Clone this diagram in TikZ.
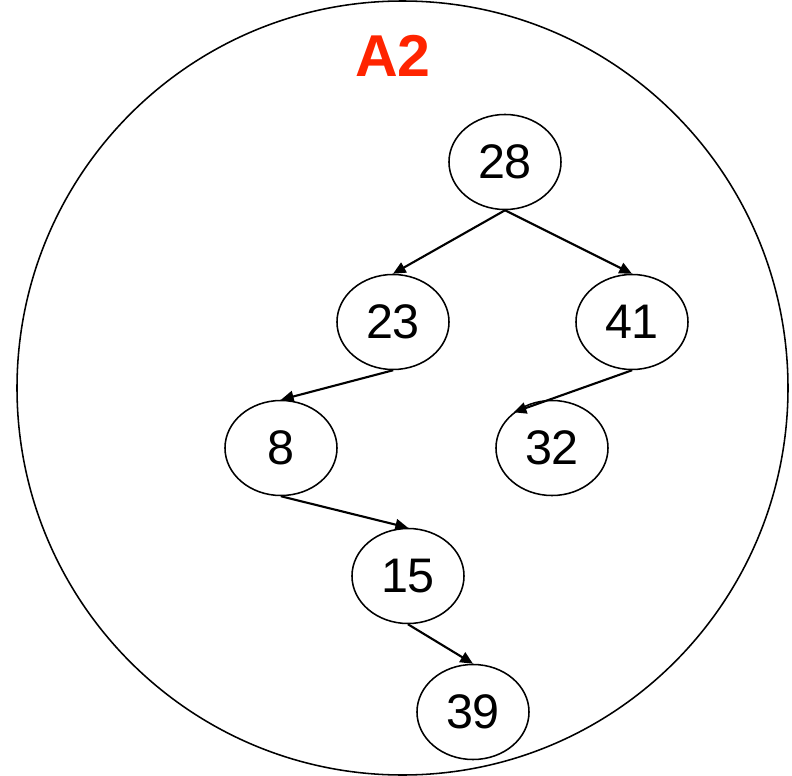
\documentclass[tikz,border=0pt]{standalone}
\usepackage{fontspec}
\setmainfont{Liberation Sans}
\usetikzlibrary{shapes.geometric, arrows.meta}
\definecolor{labelred}{RGB}{255,36,0}

\begin{document}
\begin{tikzpicture}[
  x=0.025cm, y=-0.025cm,
  key/.style={draw, ellipse, line width=1.1pt, minimum width=2.8cm, minimum height=2.375cm, inner sep=0pt, font=\fontsize{34.5}{40}\selectfont},
  link/.style={-{Triangle[length=9pt, width=8pt]}, line width=1.5pt}
]
\useasboundingbox (0,0) rectangle (792,776);
% outer set
\draw[line width=1.1pt] (402.5,388) ellipse [x radius=385.5, y radius=387];
\node[font=\fontsize{42}{48}\selectfont\bfseries, text=labelred] (title) at (393,56) {A2};

% tree
\node[key] (n28) at (505,162) {28};
\node[key] (n23) at (393,322) {23};
\node[key] (n41) at (632,322) {41};
\node[key] (n8)  at (281,448) {8};
\node[key] (n32) at (552,448) {32};
\node[key] (n15) at (408,576) {15};
\node[key] (n39) at (473,712) {39};

\draw[link] (n28.south) -- (n23.north);
\draw[link] (n28.south) -- (n41.north);
\draw[link] (n23.south) -- (n8.north);
\draw[link] (n41.south) -- (n32.137);
\draw[link] (n8.south) -- (n15.north);
\draw[link] (n15.south) -- (n39.north);
\end{tikzpicture}
\end{document}
